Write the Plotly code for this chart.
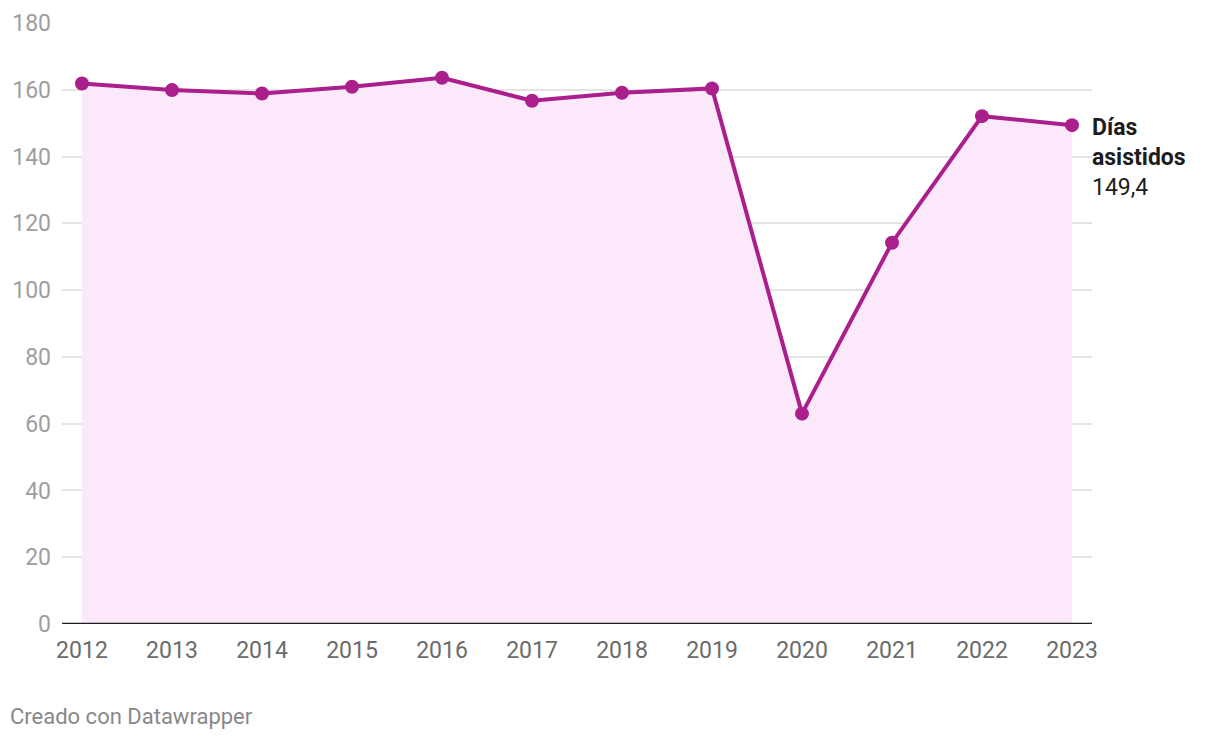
import plotly.graph_objects as go

years = [2012, 2013, 2014, 2015, 2016, 2017, 2018, 2019, 2020, 2021, 2022, 2023]
dias = [161.9, 159.9, 158.9, 160.9, 163.6, 156.7, 159.1, 160.4, 63.0, 114.2, 152.1, 149.4]
y_ticks = [0, 20, 40, 60, 80, 100, 120, 140, 160, 180]
series_name = "Días asistidos"
last_label = "149,4"

LINE = "#ab1f8c"
FILL = "#fbe9fb"
FONT = "Roboto"

fig = go.Figure()
fig.add_trace(go.Scatter(
    x=years, y=dias, mode="lines+markers",
    line=dict(color=LINE, width=4),
    marker=dict(color=LINE, size=14),
    fill="tozeroy", fillcolor=FILL,
    hoverinfo="skip", showlegend=False,
))

fig.add_annotation(
    x=years[-1], y=dias[-1], xref="x", yref="y",
    text="<b>Días<br>asistidos</b><br>" + last_label,
    showarrow=False, xanchor="left", yanchor="middle",
    xshift=18, yshift=-32, align="left",
    font=dict(family=FONT, size=23, color="#1d1d1d"),
)

fig.add_annotation(
    x=0, y=0, xref="paper", yref="paper", xanchor="left", yanchor="bottom",
    text="Creado con Datawrapper", showarrow=False,
    xshift=-54, yshift=-107,
    font=dict(family=FONT, size=22, color="#888888"),
)

fig.update_layout(
    width=1220, height=740,
    margin=dict(l=54, r=136, t=15, b=124),
    plot_bgcolor="white", paper_bgcolor="white",
    font=dict(family=FONT, size=23),
)
fig.update_xaxes(
    range=[2011.778, 2023.222], tickmode="array", tickvals=years,
    ticktext=[str(y) for y in years],
    showgrid=False, zeroline=False, showline=False, automargin=False,
    tickfont=dict(family=FONT, size=23, color="#6b6b6b"),
    ticks="", ticklabelstandoff=10,
)
fig.update_yaxes(
    range=[0, 180], tickmode="array", tickvals=y_ticks,
    showgrid=True, gridcolor="#e4e4e4", gridwidth=1.5,
    zeroline=False, showline=False, automargin=False,
    tickfont=dict(family=FONT, size=23, color="#9e9e9e"),
    ticks="", ticklabelstandoff=10,
)
fig.add_shape(type="line", xref="paper", yref="y", x0=0, x1=1, y0=0, y1=0,
              line=dict(color="#1d1d1d", width=2.5))

fig.write_html("out.html")
